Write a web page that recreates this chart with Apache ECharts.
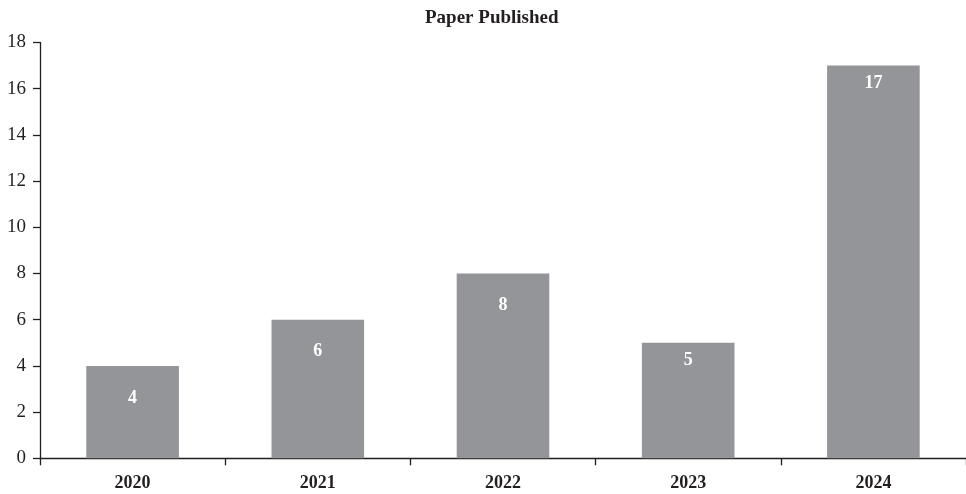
<!DOCTYPE html>
<html>
<head>
<meta charset="utf-8">
<script src="https://cdn.jsdelivr.net/npm/echarts@6/dist/echarts.min.js"></script>
<style>
  html, body { margin: 0; padding: 0; background: #fff; }
  #chart { width: 966px; height: 494px; }
</style>
</head>
<body>
<div id="chart"></div>
<script>
// Papers published per year
const years = ['2020', '2021', '2022', '2023', '2024'];
const papers = [4, 6, 8, 5, 17];
const yTicks = { min: 0, max: 18, step: 2 };

// how far each value label sits below the top of its bar
const labelDrop = [23, 23, 23, 9, 9];

const ink = '#231f20';
const serif = '"Liberation Serif", "DejaVu Serif", serif';

const chart = echarts.init(document.getElementById('chart'), null, { renderer: 'canvas' });

chart.setOption({
  animation: false,
  backgroundColor: '#ffffff',
  title: {
    text: 'Paper Published',
    left: 420,
    top: 4,
    textStyle: { fontFamily: serif, fontWeight: 'bold', fontSize: 19, color: ink }
  },
  grid: { left: 40, width: 929, top: 42.5, height: 415.8, containLabel: false },
  xAxis: {
    type: 'category',
    data: years,
    axisLine: { lineStyle: { color: ink, width: 1.3 } },
    axisTick: { show: true, length: 7, alignWithLabel: false, lineStyle: { color: ink, width: 1.3 } },
    axisLabel: { margin: 16, fontFamily: serif, fontWeight: 'bold', fontSize: 18, color: ink }
  },
  yAxis: {
    type: 'value',
    min: yTicks.min,
    max: yTicks.max,
    interval: yTicks.step,
    axisLine: { show: true, lineStyle: { color: ink, width: 1.3 } },
    axisTick: { show: true, length: 7, lineStyle: { color: ink, width: 1.3 } },
    splitLine: { show: false },
    axisLabel: { margin: 14, fontFamily: serif, fontSize: 19, color: ink }
  },
  series: [{
    type: 'bar',
    barWidth: '50%',
    itemStyle: { color: '#939598' },
    data: papers.map((v, i) => ({
      value: v,
      label: { distance: labelDrop[i] }
    })),
    label: {
      show: true,
      position: 'insideTop',
      fontFamily: serif,
      fontWeight: 'bold',
      fontSize: 18,
      color: '#ffffff'
    }
  }]
});
</script>
</body>
</html>
